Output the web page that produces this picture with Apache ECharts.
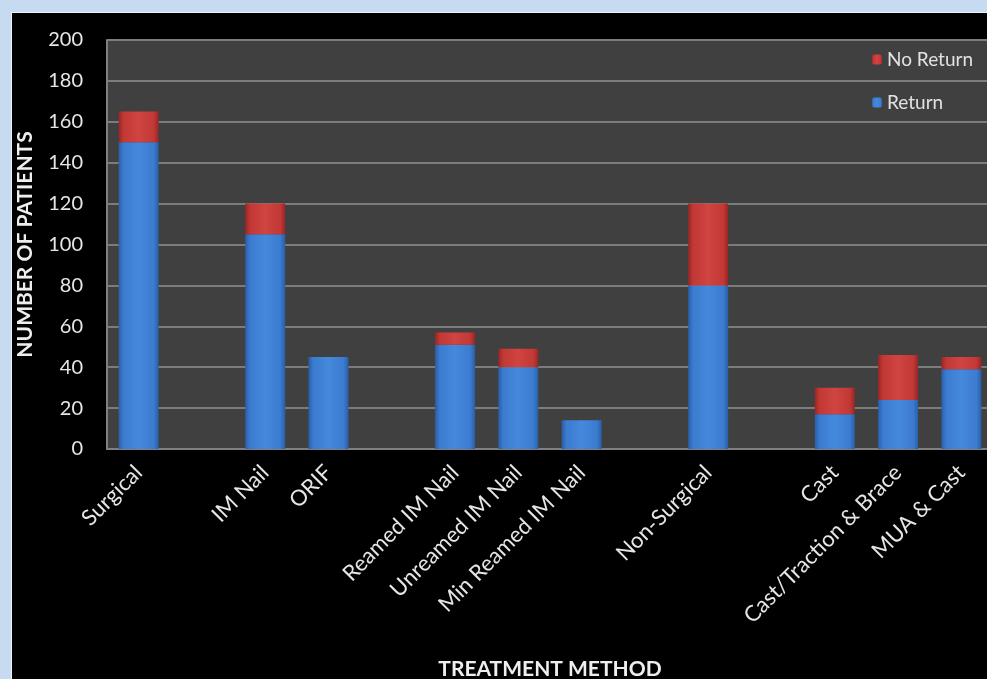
<!DOCTYPE html>
<html>
<head>
<meta charset="utf-8">
<script src="https://cdn.jsdelivr.net/npm/echarts@6/dist/echarts.min.js"></script>
<style>
  html, body { margin: 0; padding: 0; background: #c6dbef; }
  #main {
    position: absolute;
    left: 11px;
    top: 12px;
    width: 975px;
    height: 666px;
    background: #000;
    border-top: 1px solid #eef3f8;
    border-left: 1px solid #eef3f8;
  }
</style>
</head>
<body>
<div id="main"></div>
<script>
// empty strings are the spacer slots between groups
const categories = ['Surgical', '', 'IM Nail', 'ORIF', '', 'Reamed IM Nail', 'Unreamed IM Nail',
  'Min Reamed IM Nail', '', 'Non-Surgical', '', 'Cast', 'Cast/Traction & Brace', 'MUA & Cast']
const returnValues = [150, null, 105, 45, null, 51, 40, 14, null, 80, null, 17, 24, 39]
const noReturnValues = [15, null, 15, 0, null, 6, 9, 0, null, 40, null, 13, 22, 6]
const yTicks = { min: 0, max: 200, interval: 20 }

const chart = echarts.init(document.getElementById('main'))

function bevel(edge, mid, light) {
  return new echarts.graphic.LinearGradient(0, 0, 1, 0, [
    { offset: 0, color: edge },
    { offset: 0.12, color: mid },
    { offset: 0.5, color: light },
    { offset: 0.88, color: mid },
    { offset: 1, color: edge }
  ])
}

const fontFamily = 'Lato, "Open Sans", sans-serif'

const option = {
  animation: false,
  textStyle: { fontFamily: fontFamily },
  grid: {
    left: 95,
    top: 27,
    width: 886,
    height: 409,
    outerBoundsMode: 'none',
    show: true,
    backgroundColor: '#404040',
    borderWidth: 0
  },
  legend: {
    data: ['No Return', 'Return'],
    orient: 'vertical',
    left: 855,
    top: 32,
    itemWidth: 10,
    itemHeight: 10,
    itemGap: 24,
    textStyle: {
      color: '#e2e2e2',
      fontSize: 19,
      fontFamily: fontFamily
    }
  },
  xAxis: {
    type: 'category',
    data: categories,
    name: 'TREATMENT METHOD',
    nameLocation: 'middle',
    nameGap: 210,
    nameTextStyle: {
      color: '#eeeeee',
      fontSize: 21,
      fontWeight: 'bold',
      fontFamily: fontFamily
    },
    axisLine: { lineStyle: { color: '#808080', width: 2 } },
    axisTick: { show: false },
    axisLabel: {
      interval: 0,
      rotate: 45,
      margin: 20,
      color: '#e6e6e6',
      fontSize: 22,
      fontFamily: fontFamily
    }
  },
  yAxis: {
    type: 'value',
    min: yTicks.min,
    max: yTicks.max,
    interval: yTicks.interval,
    name: 'NUMBER OF PATIENTS',
    nameLocation: 'middle',
    nameGap: 71,
    nameTextStyle: {
      color: '#eeeeee',
      fontSize: 21,
      fontWeight: 'bold',
      fontFamily: fontFamily
    },
    axisLine: { show: true, lineStyle: { color: '#808080', width: 2 } },
    axisTick: { show: false },
    axisLabel: {
      margin: 24,
      color: '#e6e6e6',
      fontSize: 20,
      fontFamily: fontFamily
    },
    splitLine: { lineStyle: { color: '#7c7c7c', width: 2 } }
  },
  series: [
    {
      name: 'Return',
      type: 'bar',
      stack: 'total',
      barWidth: 40,
      itemStyle: {
        color: bevel('#2a5ea6', '#3b7bd0', '#4589dc')
      },
      data: returnValues
    },
    {
      name: 'No Return',
      type: 'bar',
      stack: 'total',
      barWidth: 40,
      itemStyle: {
        color: bevel('#962626', '#c13835', '#d04441')
      },
      data: noReturnValues
    }
  ]
}

chart.setOption(option)
</script>
</body>
</html>
